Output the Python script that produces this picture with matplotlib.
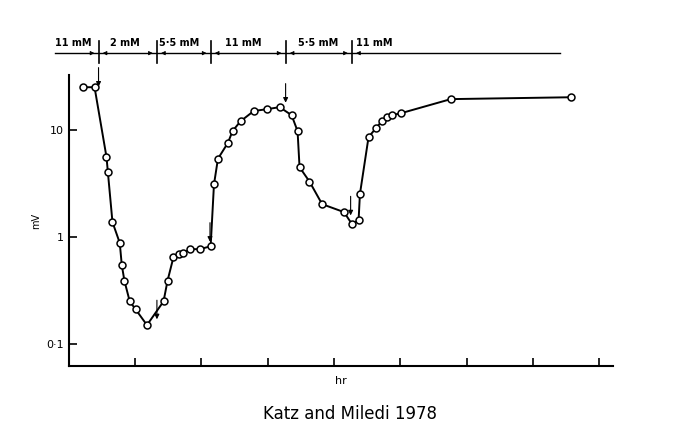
import numpy as np
import matplotlib
matplotlib.use('Agg')
from matplotlib import pyplot as plt

# time (hr) and response (mV)
hours = [0.21, 0.39, 0.57, 0.59, 0.66, 0.77, 0.80, 0.84, 0.92, 1.01, 1.18,
         1.43, 1.49, 1.58, 1.66, 1.73, 1.83, 1.98, 2.14, 2.19, 2.25, 2.40,
         2.47, 2.59, 2.79, 2.99, 3.18, 3.36, 3.45, 3.48, 3.63, 3.82, 4.15,
         4.27, 4.37, 4.39, 4.52, 4.63, 4.72, 4.80, 4.87, 5.01, 5.76, 7.57]
mv = [25.2, 25.2, 5.6, 4.1, 1.38, 0.88, 0.55, 0.39, 0.25, 0.21, 0.15,
      0.25, 0.39, 0.65, 0.69, 0.71, 0.77, 0.77, 0.82, 3.1, 5.4, 7.6,
      9.8, 12.1, 15.1, 15.7, 16.4, 13.8, 9.8, 4.5, 3.3, 2.03, 1.71,
      1.32, 1.44, 2.52, 8.6, 10.4, 12.1, 13.2, 13.8, 14.4, 19.5, 20.3]
# solution changes
change_hr = [0.45, 1.33, 2.14, 3.27, 4.27]
labels = ['11 mM', '2 mM', '5·5 mM', '11 mM', '5·5 mM', '11 mM']
label_hr = [-0.20, 0.62, 1.36, 2.36, 3.45, 4.33]
# arrows (x, tip y)
arrow_hr = [0.45, 1.33, 2.13, 3.27, 4.25]
arrow_mv = [24.0, 0.16, 0.85, 17.0, 1.5]

fig = plt.figure(figsize=(6.8, 4.22), dpi=100)
ax = fig.add_axes([0.101, 0.133, 0.8, 0.689])
ax.set_yscale('log')
ax.plot(hours, mv, '-', color='black', lw=1.4, zorder=2)
ax.plot(hours, mv, 'o', mfc='white', mec='black', ms=5, mew=1.1, zorder=3)
ax.set_xlim(0, 8.2)
ax.set_ylim(0.0623, 32.7)
ax.set_yticks([0.1, 1, 10])
ax.set_yticklabels(['0·1', '1', '10'])
ax.minorticks_off()
ax.set_xticks(range(1, 9))
ax.set_xticklabels([])
ax.tick_params(direction='in', length=6, width=1.2, labelsize=8)
for s in ['top', 'right']:
    ax.spines[s].set_visible(False)
for s in ['left', 'bottom']:
    ax.spines[s].set_linewidth(1.5)
ax.set_ylabel('mV', fontsize=7)
ax.set_xlabel('hr', fontsize=8)

for x, y in zip(arrow_hr, arrow_mv):
    ax.annotate('', xy=(x, y), xytext=(x, y * 1.7),
                arrowprops=dict(arrowstyle='-|>', color='black', lw=0.8, mutation_scale=7))

# solution bar above the plot
ax.plot([-0.21, 7.41], [52.5, 52.5], color='black', lw=1.0, clip_on=False)
for x in change_hr:
    ax.plot([x, x], [42, 68], color='black', lw=1.2, clip_on=False)
edges = [-0.21] + change_hr + [7.41]
for i in range(len(edges) - 1):
    a, b = edges[i], edges[i + 1]
    if i > 0:
        ax.annotate('', xy=(a + 0.02, 52.5), xytext=(a + 0.15, 52.5),
                    arrowprops=dict(arrowstyle='-|>', color='black', lw=0.6, mutation_scale=6),
                    annotation_clip=False)
    if i < len(edges) - 2:
        ax.annotate('', xy=(b - 0.02, 52.5), xytext=(b - 0.15, 52.5),
                    arrowprops=dict(arrowstyle='-|>', color='black', lw=0.6, mutation_scale=6),
                    annotation_clip=False)
for x, t in zip(label_hr, labels):
    ax.text(x, 66, t, fontsize=7, fontweight='bold', ha='left', va='center', clip_on=False)

fig.text(0.515, 0.02, 'Katz and Miledi 1978', fontsize=12, ha='center', va='center')
fig.savefig('out.png', dpi=100)
